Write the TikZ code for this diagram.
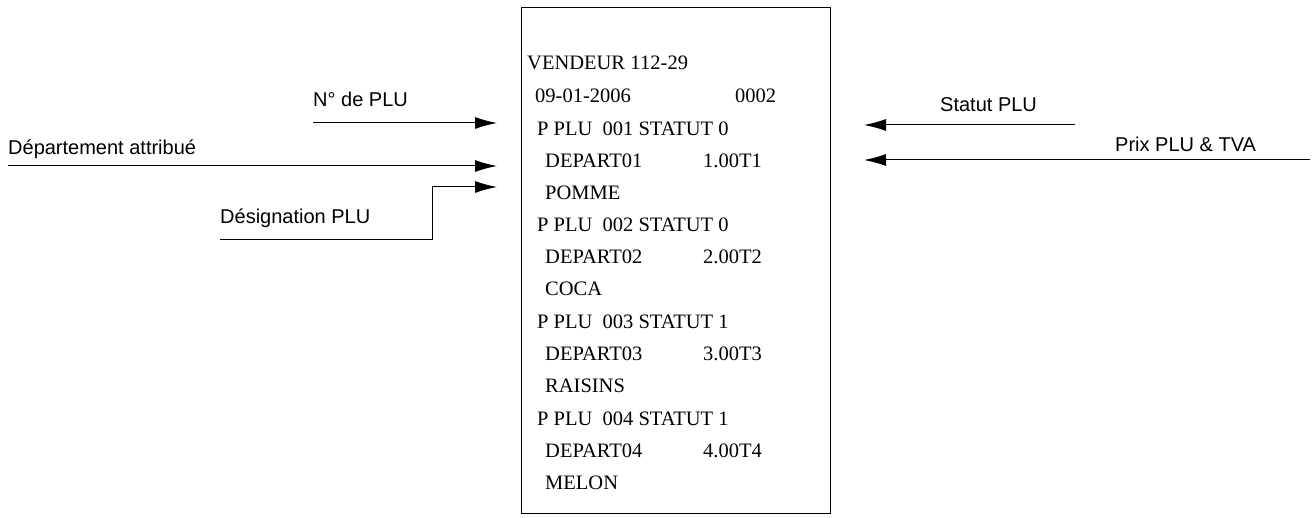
\documentclass[tikz,border=0pt]{standalone}
\usetikzlibrary{arrows.meta}
\usepackage{fontspec}
\setmainfont{Liberation Serif}
\newfontfamily\lab{Liberation Sans}
\begin{document}
\begin{tikzpicture}[x=1pt,y=-1pt,
  t/.style={anchor=base west,inner sep=0pt,font=\fontsize{20.5}{20.5}\selectfont},
  l/.style={anchor=base west,inner sep=0pt,font=\lab\fontsize{20}{20}\selectfont},
  ar/.style={-{Latex[length=22pt,width=12pt]},line width=1pt}]
\useasboundingbox (0,0) rectangle (1312,518);
\draw[line width=1pt] (521,8) rectangle (830,513);
\node[t] (v1) at (527,70) {VENDEUR 1};
\node[t] (v2) at (640,70) {12-29};
\node[t] (d1) at (535,103) {09-01-2006};
\node[t] (d2) at (735,103) {0002};
\foreach \n/\st/\p/\name/\y in {1/0/1.00/POMME/136, 2/0/2.00/COCA/232, 3/1/3.00/RAISINS/329, 4/1/4.00/MELON/425}{
  \node[t] (p\n) at (537,\y) {P PLU\ \ 00\n\ STATUT \st};
  \node[t] (q\n) at (545,\y+32) {DEPART0\n};
  \node[t] (r\n) at (703,\y+32) {\p T\n};
  \node[t] (s\n) at (545,\y+64) {\name};
}
\node[l] (nplu) at (313,107) {N° de PLU};
\node[l] (dep) at (8,155) {Département attribué};
\node[l] (des) at (220,224) {Désignation PLU};
\node[l] (stat) at (940,112) {Statut PLU};
\node[l] (prix) at (1115,152) {Prix PLU \& TVA};
\coordinate (a1) at (313,123); \coordinate (b1) at (497,123);
\coordinate (a2) at (8,166); \coordinate (b2) at (497,166);
\coordinate (a3) at (220,240); \coordinate (c3) at (432,240); \coordinate (e3) at (432,187); \coordinate (b3) at (497,187);
\coordinate (a4) at (1075,125); \coordinate (b4) at (864,125);
\coordinate (a5) at (1310,160); \coordinate (b5) at (864,160);
\draw[ar] (a1) -- (b1);
\draw[ar] (a2) -- (b2);
\draw[ar] (a3) -- (c3) -- (e3) -- (b3);
\draw[ar] (a4) -- (b4);
\draw[ar] (a5) -- (b5);
\end{tikzpicture}
\end{document}
